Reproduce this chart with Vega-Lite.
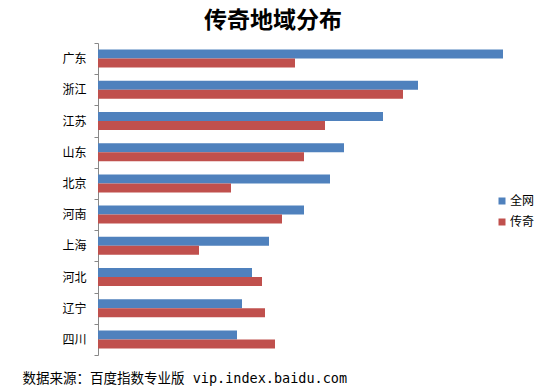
{
  "$schema": "https://vega.github.io/schema/vega-lite/v6.json",
  "width": 430,
  "height": 312,
  "autosize": "none",
  "padding": {"left": 98, "top": 43, "right": 16, "bottom": 31},
  "background": "white",
  "config": {
    "view": {"stroke": null},
    "font": "Noto Sans CJK SC"
  },
  "title": {
    "text": "传奇地域分布",
    "fontSize": 23,
    "fontWeight": "bold",
    "font": "Noto Sans CJK SC",
    "color": "#000000",
    "anchor": "middle",
    "dx": -40,
    "offset": 4
  },
  "data": {
    "values": [
      {"region": "广东", "series": "全网", "value": 405},
      {"region": "广东", "series": "传奇", "value": 197},
      {"region": "浙江", "series": "全网", "value": 320},
      {"region": "浙江", "series": "传奇", "value": 305},
      {"region": "江苏", "series": "全网", "value": 285},
      {"region": "江苏", "series": "传奇", "value": 227},
      {"region": "山东", "series": "全网", "value": 246},
      {"region": "山东", "series": "传奇", "value": 206},
      {"region": "北京", "series": "全网", "value": 232},
      {"region": "北京", "series": "传奇", "value": 133},
      {"region": "河南", "series": "全网", "value": 206},
      {"region": "河南", "series": "传奇", "value": 184},
      {"region": "上海", "series": "全网", "value": 171},
      {"region": "上海", "series": "传奇", "value": 101},
      {"region": "河北", "series": "全网", "value": 154},
      {"region": "河北", "series": "传奇", "value": 164},
      {"region": "辽宁", "series": "全网", "value": 144},
      {"region": "辽宁", "series": "传奇", "value": 167},
      {"region": "四川", "series": "全网", "value": 139},
      {"region": "四川", "series": "传奇", "value": 177}
    ]
  },
  "mark": {"type": "bar"},
  "encoding": {
    "y": {
      "field": "region",
      "type": "nominal",
      "sort": ["广东", "浙江", "江苏", "山东", "北京", "河南", "上海", "河北", "辽宁", "四川"],
      "scale": {"paddingInner": 0, "paddingOuter": 0},
      "axis": {
        "title": null,
        "labelFontSize": 12,
        "labelColor": "#000000",
        "labelPadding": 8,
        "tickBand": "extent",
        "tickSize": 4,
        "tickColor": "#888888",
        "domainColor": "#888888",
        "grid": false
      }
    },
    "yOffset": {
      "field": "series",
      "type": "nominal",
      "sort": ["全网", "传奇"],
      "scale": {"paddingInner": 0, "paddingOuter": 0.73}
    },
    "x": {
      "field": "value",
      "type": "quantitative",
      "scale": {"domain": [0, 430], "nice": false},
      "axis": {
        "title": "数据来源：百度指数专业版 vip.index.baidu.com",
        "titleFont": "DejaVu Sans Mono, Noto Sans CJK SC",
        "titleFontSize": 13.5,
        "titleFontWeight": "normal",
        "titleColor": "#000000",
        "titleAnchor": "start",
        "titleAlign": "left",
        "titleBaseline": "middle",
        "titleX": -76,
        "titleY": 23,
        "labels": false,
        "ticks": false,
        "domain": false,
        "grid": false
      }
    },
    "color": {
      "field": "series",
      "type": "nominal",
      "sort": ["全网", "传奇"],
      "scale": {"domain": ["全网", "传奇"], "range": ["#4F81BD", "#C0504D"]},
      "legend": {
        "title": null,
        "orient": "none",
        "legendX": 398,
        "legendY": 152,
        "symbolType": "square",
        "symbolSize": 49,
        "symbolStrokeWidth": 0,
        "symbolOpacity": 1,
        "labelFontSize": 12,
        "labelColor": "#000000",
        "labelOffset": 2,
        "rowPadding": 9
      }
    }
  }
}
